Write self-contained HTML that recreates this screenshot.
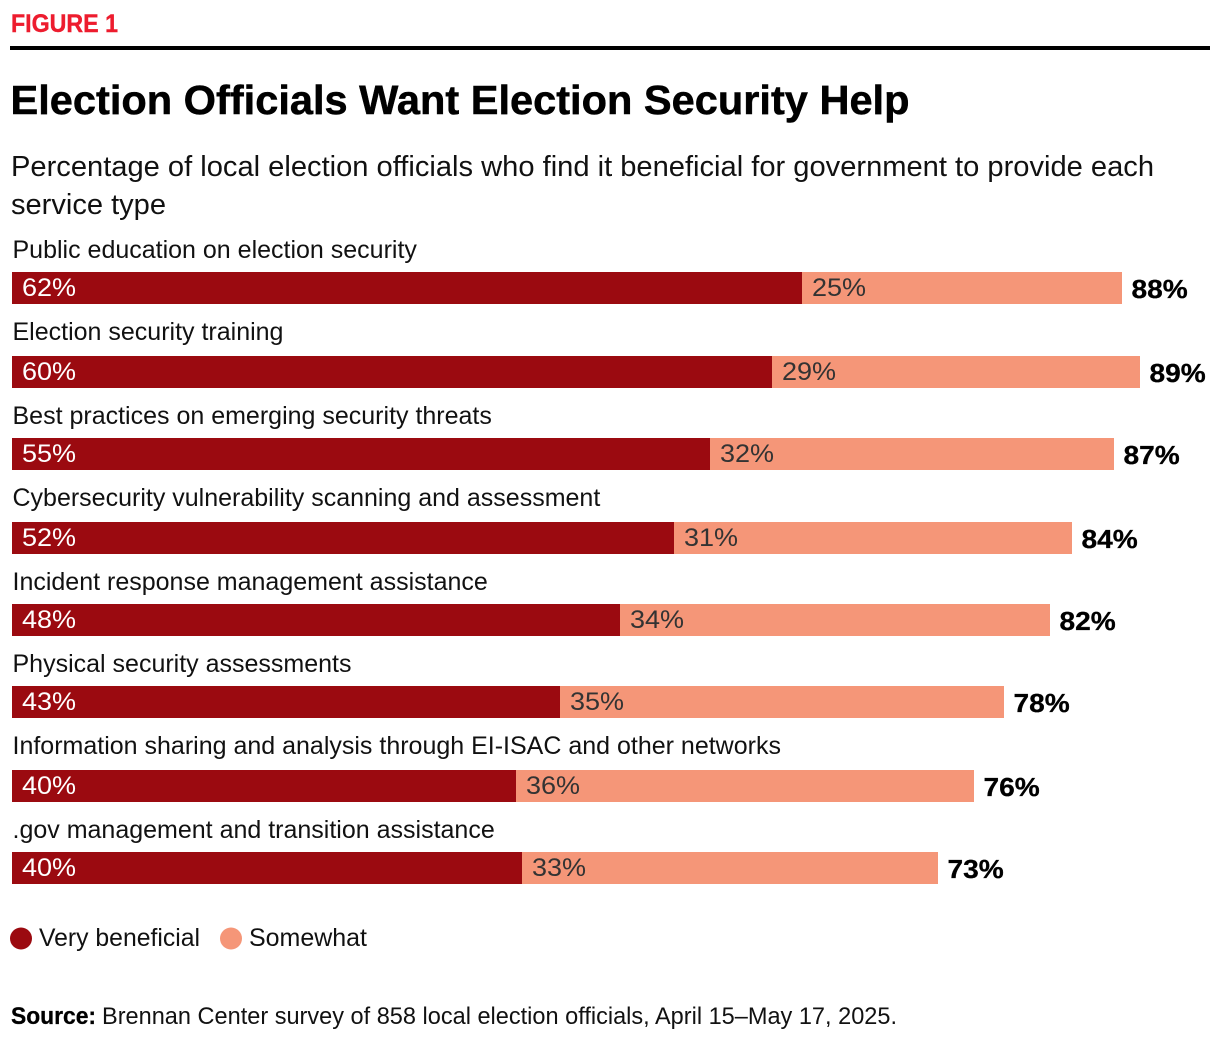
<!DOCTYPE html>
<html lang="en">
<head>
<meta charset="utf-8">
<title>Election Officials Want Election Security Help</title>
<style>
  html, body { margin: 0; padding: 0; background: #fff; }
  body { width: 1220px; height: 1044px; overflow: hidden; }
  svg { display: block; font-family: "Liberation Sans", sans-serif; }
</style>
</head>
<body>
<svg id="chart" width="1220" height="1044" viewBox="0 0 1220 1044" xmlns="http://www.w3.org/2000/svg">
  <rect width="1220" height="1044" fill="#fff"/>
  <text x="11" y="32" font-size="25" font-weight="700" fill="#ed1c2e" stroke="#ed1c2e" stroke-width="0.4" textLength="107" lengthAdjust="spacingAndGlyphs">FIGURE 1</text>
  <rect x="10" y="46" width="1200" height="4" fill="#000"/>
  <text x="10.500" y="114" font-size="41" font-weight="700" fill="#000" stroke="#000" stroke-width="0.5" textLength="899" lengthAdjust="spacingAndGlyphs">Election Officials Want Election Security Help</text>
  <text x="11" y="176" font-size="28.500" fill="#111" textLength="1143" lengthAdjust="spacingAndGlyphs">Percentage of local election officials who find it beneficial for government to provide each</text>
  <text x="11" y="214" font-size="28.500" fill="#111" textLength="155" lengthAdjust="spacingAndGlyphs">service type</text>
  <g id="rows"></g>
  <g>
    <circle cx="21" cy="938.500" r="11" fill="#9b0a10"/>
    <text x="39" y="946" font-size="25" fill="#111" textLength="161" lengthAdjust="spacingAndGlyphs">Very beneficial</text>
    <circle cx="231" cy="938.500" r="11" fill="#f59678"/>
    <text x="249" y="946" font-size="25" fill="#111" textLength="118" lengthAdjust="spacingAndGlyphs">Somewhat</text>
  </g>
  <text x="11" y="1024" font-size="24.500" font-weight="700" fill="#000" stroke="#000" stroke-width="0.3" textLength="85" lengthAdjust="spacingAndGlyphs">Source:</text>
  <text x="102" y="1024" font-size="24.500" fill="#111" textLength="795" lengthAdjust="spacingAndGlyphs">Brennan Center survey of 858 local election officials, April 15–May 17, 2025.</text>
</svg>
<script>
const categories = [
  "Public education on election security",
  "Election security training",
  "Best practices on emerging security threats",
  "Cybersecurity vulnerability scanning and assessment",
  "Incident response management assistance",
  "Physical security assessments",
  "Information sharing and analysis through EI-ISAC and other networks",
  ".gov management and transition assistance"
];
const veryBeneficial = [61.95, 59.6, 54.75, 51.9, 47.7, 43, 39.5, 40];
const somewhat = [25.1, 28.9, 31.7, 31.2, 33.7, 34.8, 35.95, 32.6];
const veryLabels = ["62%", "60%", "55%", "52%", "48%", "43%", "40%", "40%"];
const somewhatLabels = ["25%", "29%", "32%", "31%", "34%", "35%", "36%", "33%"];
const totalLabels = ["88%", "89%", "87%", "84%", "82%", "78%", "76%", "73%"];

const NS = "http://www.w3.org/2000/svg";
const rowsGroup = document.getElementById("rows");
const xScale = function (v) { return Math.round(12 + v * 12.75); };
const bandTop = function (i) { return Math.ceil((272 + i * 82.8) / 2) * 2; };
const labelBaseline = function (i) { return Math.round((250 + i * 82.8) / 2) * 2 + 8; };

function makeText(parent, x, y, size, fill, str, weight) {
  const t = document.createElementNS(NS, "text");
  t.setAttribute("x", x);
  t.setAttribute("y", y);
  t.setAttribute("font-size", size);
  t.setAttribute("fill", fill);
  if (weight) t.setAttribute("font-weight", weight);
  t.textContent = str;
  parent.appendChild(t);
  return t;
}
function makeRect(parent, x, y, w, h, fill) {
  const r = document.createElementNS(NS, "rect");
  r.setAttribute("x", x);
  r.setAttribute("y", y);
  r.setAttribute("width", w);
  r.setAttribute("height", h);
  r.setAttribute("fill", fill);
  parent.appendChild(r);
  return r;
}
function stretch(el, factor) {
  el.setAttribute("textLength", (el.getComputedTextLength() * factor).toFixed(1));
  el.setAttribute("lengthAdjust", "spacingAndGlyphs");
}

categories.forEach(function (name, i) {
  const top = bandTop(i);
  const x0 = xScale(0);
  const x1 = xScale(veryBeneficial[i]);
  const x2 = xScale(veryBeneficial[i] + somewhat[i]);

  const g = document.createElementNS(NS, "g");
  
  
  rowsGroup.appendChild(g);

  const label = makeText(g, 12.5, labelBaseline(i), 25, "#111", name);
  
  

  const barA = makeRect(g, x0, top, x1 - x0, 32, "#9b0a10");
  
  

  const barB = makeRect(g, x1, top, x2 - x1, 32, "#f59678");
  
  

  const valA = makeText(g, x0 + 10, top + 24, 25, "#fff", veryLabels[i]);
  
  
  stretch(valA, 1.08);

  const valB = makeText(g, x1 + 10, top + 24, 25, "#333", somewhatLabels[i]);
  
  
  stretch(valB, 1.08);

  const total = makeText(g, x2 + 9.5, top + 26, 26, "#000", totalLabels[i], "700");
  
  
  total.setAttribute('stroke', '#000');
  total.setAttribute('stroke-width', '0.3');
  stretch(total, 1.08);
});
</script>
</body>
</html>
